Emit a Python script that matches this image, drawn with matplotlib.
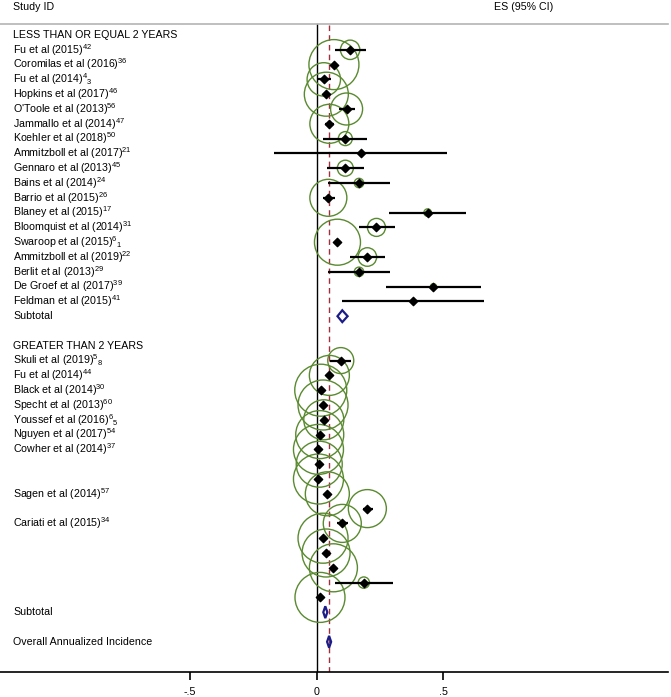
import matplotlib
matplotlib.use("Agg")
import matplotlib.pyplot as plt
from matplotlib.patches import Polygon
import numpy as np

plt.rcParams['font.family'] = ['Liberation Sans', 'DejaVu Sans']
plt.rcParams['mathtext.fontset'] = 'custom'
plt.rcParams['mathtext.rm'] = 'Liberation Sans'
plt.rcParams['mathtext.it'] = 'Liberation Sans'
plt.rcParams['mathtext.default'] = 'regular'

# ---------------- data ----------------
group1_label = "LESS THAN OR EQUAL 2 YEARS"
group1_studies = [
    r"Fu et al (2015)$^{42}$", r"Coromilas et al (2016)$^{36}$", r"Fu et al (2014)$^{4}$$_{3}$",
    r"Hopkins et al (2017)$^{46}$", r"O'Toole et al (2013)$^{56}$", r"Jammallo et al (2014)$^{47}$",
    r"Koehler et al (2018)$^{50}$", r"Ammitzboll et al (2017)$^{21}$", r"Gennaro et al (2013)$^{45}$",
    r"Bains et al (2014)$^{24}$", r"Barrio et al (2015)$^{26}$", r"Blaney et al (2015)$^{17}$",
    r"Bloomquist et al (2014)$^{31}$", r"Swaroop et al (2015)$^{6}$$_{1}$", r"Ammitzboll et al (2019)$^{22}$",
    r"Berlit et al (2013)$^{29}$", r"De Groef et al (2017)$^{39}$", r"Feldman et al (2015)$^{41}$",
]
group1_es = [0.132, 0.068, 0.028, 0.038, 0.118, 0.050, 0.113, 0.175, 0.113,
             0.167, 0.046, 0.438, 0.236, 0.082, 0.200, 0.167, 0.461, 0.379]
group1_lo = [0.074, 0.060, 0.000, 0.030, 0.089, 0.032, 0.024, -0.167, 0.042,
             0.046, 0.024, 0.284, 0.166, 0.075, 0.132, 0.045, 0.274, 0.100]
group1_hi = [0.193, 0.076, 0.057, 0.046, 0.153, 0.068, 0.200, 0.514, 0.186,
             0.289, 0.072, 0.591, 0.309, 0.090, 0.271, 0.291, 0.647, 0.659]
group1_w = [0.94, 6.25, 2.79, 4.84, 2.56, 3.80, 0.49, 0.02, 0.64,
            0.22, 3.42, 0.14, 0.81, 5.29, 0.86, 0.22, 0.09, 0.02]
group1_sub = (0.101, 0.082, 0.122)

group2_label = "GREATER THAN 2 YEARS"
group2_studies = [
    r"Skuli et al (2019)$^{5}$$_{8}$", r"Fu et al (2014)$^{44}$", r"Black et al (2014)$^{30}$",
    r"Specht et al (2013)$^{60}$", r"Youssef et al (2016)$^{6}$$_{5}$", r"Nguyen et al (2017)$^{54}$",
    r"Cowher et al (2014)$^{37}$", "", "", r"Sagen et al (2014)$^{57}$", "",
    r"Cariati et al (2015)$^{34}$", "", "", "", "", "",
]
group2_es = [0.095, 0.050, 0.016, 0.025, 0.028, 0.012, 0.007, 0.010, 0.007,
             0.042, 0.200, 0.101, 0.025, 0.037, 0.066, 0.186, 0.013]
group2_lo = [0.053, 0.044, 0.010, 0.019, 0.020, 0.006, 0.002, 0.004, 0.002,
             0.035, 0.184, 0.082, 0.019, 0.030, 0.058, 0.074, 0.007]
group2_hi = [0.137, 0.056, 0.022, 0.031, 0.036, 0.018, 0.012, 0.016, 0.012,
             0.049, 0.221, 0.122, 0.031, 0.044, 0.074, 0.300, 0.019]
group2_w = [1.69, 4.00, 6.76, 6.25, 4.00, 5.76, 6.25, 5.29, 6.25,
            4.84, 3.61, 3.61, 6.25, 5.76, 5.76, 0.32, 6.25]
group2_sub = (0.034, 0.026, 0.042)

overall = (0.049, 0.041, 0.057)
overall_label = "Overall Annualized Incidence"
xticks = [-0.5, 0, 0.5]
xticklabels = ["-.5", "0", ".5"]

# ---------------- layout ----------------
W, H, DPI = 671, 697, 100
fig = plt.figure(figsize=(W / DPI, H / DPI), dpi=DPI)
ax_bottom_px = 671.7
ax = fig.add_axes([0, (H - ax_bottom_px) / H, 668 / W, ax_bottom_px / H])

px_per_unit = 253.3
x0_px = 316.7
ax.set_xlim(-x0_px / px_per_unit, (668 - x0_px) / px_per_unit)
row_px = 14.8
row0_px = 35.0
ax.set_ylim((ax_bottom_px - row0_px) / row_px, -row0_px / row_px)

for s in ['top', 'left', 'right']:
    ax.spines[s].set_visible(False)
ax.spines['bottom'].set_linewidth(1.2)
ax.set_yticks([])
ax.set_xticks(xticks)
ax.set_xticklabels(xticklabels, fontsize=7.7)
ax.tick_params(axis='x', direction='out', length=6, width=1.2, pad=5)

tr = ax.get_yaxis_transform()
FS = 7.7
lab_x = 13 / 668
green = '#5a8a30'
navy = '#1c1c88'

def r2y(px):
    return (px - row0_px) / row_px

header_y = r2y(7)
line_y = r2y(24)
ax.text(lab_x, header_y, "Study ID", transform=tr, fontsize=FS, va='center', ha='left')
ax.text((524) / 668, header_y, "ES (95% CI)", transform=tr, fontsize=FS, va='center', ha='center')
ax.plot([0, 1], [line_y, line_y], transform=tr, color='#b4b4b4', lw=1.2, clip_on=False)

bottom_y = (ax_bottom_px - row0_px) / row_px
ax.plot([0, 0], [line_y, bottom_y], color='black', lw=1.0, zorder=1)
ax.plot([overall[0], overall[0]], [line_y + 0.1, bottom_y], color='#a03040', lw=1.0,
        ls=(0, (4, 3)), zorder=1)

def size_from_w(w):
    r = 10.0 * np.sqrt(w)  # px
    return (2 * r * 72 / DPI) ** 2

def diamond(es, lo, hi, y, h=0.4):
    ax.add_patch(Polygon([[lo, y], [es, y - h], [hi, y], [es, y + h]], closed=True,
                         facecolor='none', edgecolor=navy, lw=1.6, zorder=5))

def draw_group(start_row, label, studies, es, lo, hi, w, sub):
    ax.text(lab_x, start_row, label, transform=tr, fontsize=FS, va='center', ha='left')
    ys = np.arange(start_row + 1, start_row + 1 + len(studies))
    for y, name in zip(ys, studies):
        if name:
            ax.text(lab_x, y, name, transform=tr, fontsize=FS, va='center', ha='left')
    ax.hlines(ys, lo, hi, color='black', lw=1.6, zorder=3)
    ax.scatter(es, ys, s=[size_from_w(v) for v in w], facecolors='none',
               edgecolors=green, linewidths=1.0, zorder=2)
    ax.scatter(es, ys, marker='D', s=18, color='black', zorder=4)
    sub_y = start_row + 1 + len(studies)
    ax.text(lab_x, sub_y, "Subtotal", transform=tr, fontsize=FS, va='center', ha='left')
    diamond(sub[0], sub[1], sub[2], sub_y)
    return sub_y

end1 = draw_group(0, group1_label, group1_studies, group1_es, group1_lo, group1_hi, group1_w, group1_sub)
end2 = draw_group(end1 + 2, group2_label, group2_studies, group2_es, group2_lo, group2_hi, group2_w, group2_sub)
ov_y = end2 + 2
ax.text(lab_x, ov_y, overall_label, transform=tr, fontsize=FS, va='center', ha='left')
diamond(overall[0], overall[1], overall[2], ov_y)

fig.savefig("out.png", dpi=DPI)
